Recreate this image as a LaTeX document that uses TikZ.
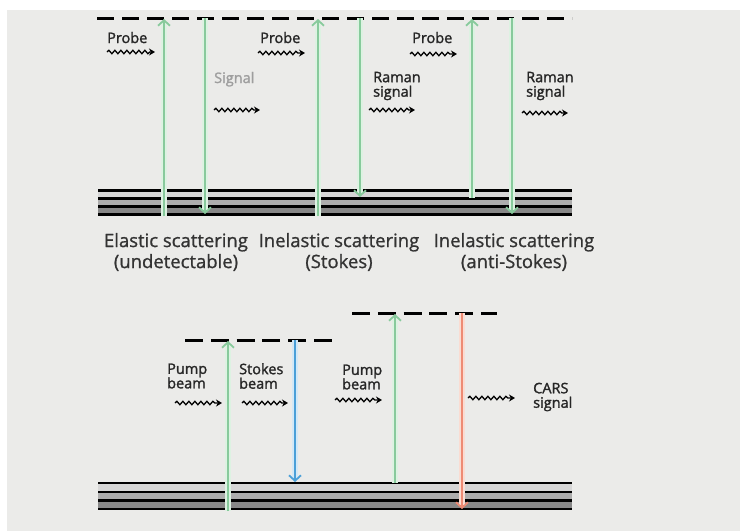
\documentclass[tikz,border=0pt]{standalone}
\usepackage{fontspec}
\setmainfont{Open Sans}
\newfontfamily\lblfont{Open Sans}[FakeBold=1.6]
\newfontfamily\capfont{Open Sans}[FakeBold=1]
\usetikzlibrary{arrows.meta,decorations.pathmorphing}
\definecolor{bg}{HTML}{EBEBE9}
\definecolor{greenc}{HTML}{88CA9C}
\definecolor{greenp}{HTML}{DDF2E2}
\definecolor{bluec}{HTML}{4A9FD8}
\definecolor{bluep}{HTML}{D3E8F6}
\definecolor{redc}{HTML}{EE8B74}
\definecolor{redp}{HTML}{FADCD2}
\definecolor{txt}{HTML}{262626}
\definecolor{captxt}{HTML}{333333}
\definecolor{lvA}{HTML}{D6D6D6}
\definecolor{lvB}{HTML}{ADADAD}
\definecolor{lvC}{HTML}{878787}
\tikzset{
  lbl/.style={inner sep=0pt, text=txt, font=\lblfont\fontsize{14.5}{14.5}\selectfont, align=left},
  caption/.style={inner sep=0pt, text=captxt, font=\capfont\fontsize{18.5}{21}\selectfont, align=center},
  wavy/.style={draw=black, line width=1.3pt, decorate,
    decoration={snake, amplitude=1.7pt, segment length=6pt, post length=5pt},
    -{Stealth[length=6pt,width=7pt]}},
  trans/.style={draw=#1c, line width=1.8pt, -{Straight Barb[length=5.5pt,width=12pt]},
    preaction={draw=#1p, line width=5.5pt, -, shorten >=4pt}},
  toplevel/.style={draw=black, line width=3pt, dash pattern=on 17pt off 8pt},
  lowlevel/.style={draw=black, line width=3pt, dash pattern=on 18pt off 7.8pt},
  lvline/.style={draw=black, line width=2.3pt}
}
\begin{document}
\begin{tikzpicture}[x=1pt,y=-1pt]
\useasboundingbox (0,0) rectangle (740,531);
\fill[white] (0,0) rectangle (740,531);
\fill[bg] (7,10) rectangle (740,531);

% ---------- top panel: ground levels ----------
\fill[lvA] (98,190.5) rectangle (572,198.5);
\fill[lvB] (98,198.5) rectangle (572,206.5);
\fill[lvC] (98,206.5) rectangle (572,214.5);
\coordinate (gA1) at (98,190.5); \coordinate (gA2) at (572,190.5);
\coordinate (gB1) at (98,198.5); \coordinate (gB2) at (572,198.5);
\coordinate (gC1) at (98,206.5); \coordinate (gC2) at (572,206.5);
\coordinate (gD1) at (98,214.5); \coordinate (gD2) at (572,214.5);
\draw[lvline] (gA1) -- (gA2);
\draw[lvline] (gB1) -- (gB2);
\draw[lvline] (gC1) -- (gC2);
\draw[lvline] (gD1) -- (gD2);

% virtual level
\coordinate (vT1) at (97,18); \coordinate (vT2) at (572,18);
\draw[toplevel] (vT1) -- (vT2);

% transitions
\coordinate (e1b) at (164,216); \coordinate (e1t) at (164,19);
\coordinate (e2t) at (205,18);  \coordinate (e2b) at (205,214);
\coordinate (s1b) at (318,216); \coordinate (s1t) at (318,19);
\coordinate (s2t) at (360,18);  \coordinate (s2b) at (360,197);
\coordinate (a1b) at (472,198); \coordinate (a1t) at (472,19);
\coordinate (a2t) at (512,18);  \coordinate (a2b) at (512,214);
\draw[trans=green] (e1b) -- (e1t);
\draw[trans=green] (e2t) -- (e2b);
\draw[trans=green] (s1b) -- (s1t);
\draw[trans=green] (s2t) -- (s2b);
\draw[trans=green] (a1b) -- (a1t);
\draw[trans=green] (a2t) -- (a2b);

% labels
\node[lbl, anchor=base west] (probe1) at (107,43) {Probe};
\node[lbl, anchor=base west] (probe2) at (260,43) {Probe};
\node[lbl, anchor=base west] (probe3) at (412,43) {Probe};
\node[lbl, anchor=base west, text=black!38] (signal) at (214,83) {Signal};
\node[lbl, anchor=west] (raman1) at (373,86) {Raman\\signal};
\node[lbl, anchor=west] (raman2) at (526,86) {Raman\\signal};

\coordinate (w1a) at (107,52);  \coordinate (w1b) at (155,52);
\coordinate (w2a) at (258,53);  \coordinate (w2b) at (305,53);
\coordinate (w3a) at (410,54);  \coordinate (w3b) at (457,54);
\coordinate (w4a) at (214,110); \coordinate (w4b) at (260,110);
\coordinate (w5a) at (369,110); \coordinate (w5b) at (415,110);
\coordinate (w6a) at (522,113); \coordinate (w6b) at (568,113);
\draw[wavy] (w1a) -- (w1b);
\draw[wavy] (w2a) -- (w2b);
\draw[wavy] (w3a) -- (w3b);
\draw[wavy] (w4a) -- (w4b);
\draw[wavy] (w5a) -- (w5b);
\draw[wavy] (w6a) -- (w6b);

\node[caption] (cap1) at (176,252) {Elastic scattering\\(undetectable)};
\node[caption] (cap2) at (339,252) {Inelastic scattering\\(Stokes)};
\node[caption] (cap3) at (514,252) {Inelastic scattering\\(anti-Stokes)};

% ---------- bottom panel ----------
\fill[lvA] (98,483) rectangle (572,491.7);
\fill[lvB] (98,491.7) rectangle (572,500.4);
\fill[lvC] (98,500.4) rectangle (572,509);
\coordinate (hA1) at (98,483);   \coordinate (hA2) at (572,483);
\coordinate (hB1) at (98,491.7); \coordinate (hB2) at (572,491.7);
\coordinate (hC1) at (98,500.4); \coordinate (hC2) at (572,500.4);
\coordinate (hD1) at (98,509);   \coordinate (hD2) at (572,509);
\draw[lvline] (hA1) -- (hA2);
\draw[lvline] (hB1) -- (hB2);
\draw[lvline] (hC1) -- (hC2);
\draw[lvline] (hD1) -- (hD2);

\coordinate (vL1) at (185,340); \coordinate (vL2) at (332,340);
\coordinate (vR1) at (352,313); \coordinate (vR2) at (497,313);
\draw[lowlevel] (vL1) -- (vL2);
\draw[lowlevel] (vR1) -- (vR2);

\coordinate (p1b) at (228,511); \coordinate (p1t) at (228,341);
\coordinate (stt) at (295,340); \coordinate (stb) at (295,482);
\coordinate (p2b) at (395,483); \coordinate (p2t) at (395,314);
\coordinate (crt) at (462,313); \coordinate (crb) at (462,509);
\draw[trans=green] (p1b) -- (p1t);
\draw[trans=blue]  (stt) -- (stb);
\draw[trans=green] (p2b) -- (p2t);
\draw[trans=red]   (crt) -- (crb);

\node[lbl, anchor=west] (pump1)  at (167,376) {Pump\\beam};
\node[lbl, anchor=west] (stokes) at (239,376) {Stokes\\beam};
\node[lbl, anchor=west] (pump2)  at (342,377) {Pump\\beam};
\node[lbl, anchor=west] (cars)   at (533,397) {CARS\\signal};

\coordinate (w7a) at (175,403);  \coordinate (w7b) at (222,403);
\coordinate (w8a) at (242,403);  \coordinate (w8b) at (288,403);
\coordinate (w9a) at (335,400);  \coordinate (w9b) at (382,400);
\coordinate (w10a) at (468,398); \coordinate (w10b) at (515,398);
\draw[wavy] (w7a) -- (w7b);
\draw[wavy] (w8a) -- (w8b);
\draw[wavy] (w9a) -- (w9b);
\draw[wavy] (w10a) -- (w10b);
\end{tikzpicture}
\end{document}
